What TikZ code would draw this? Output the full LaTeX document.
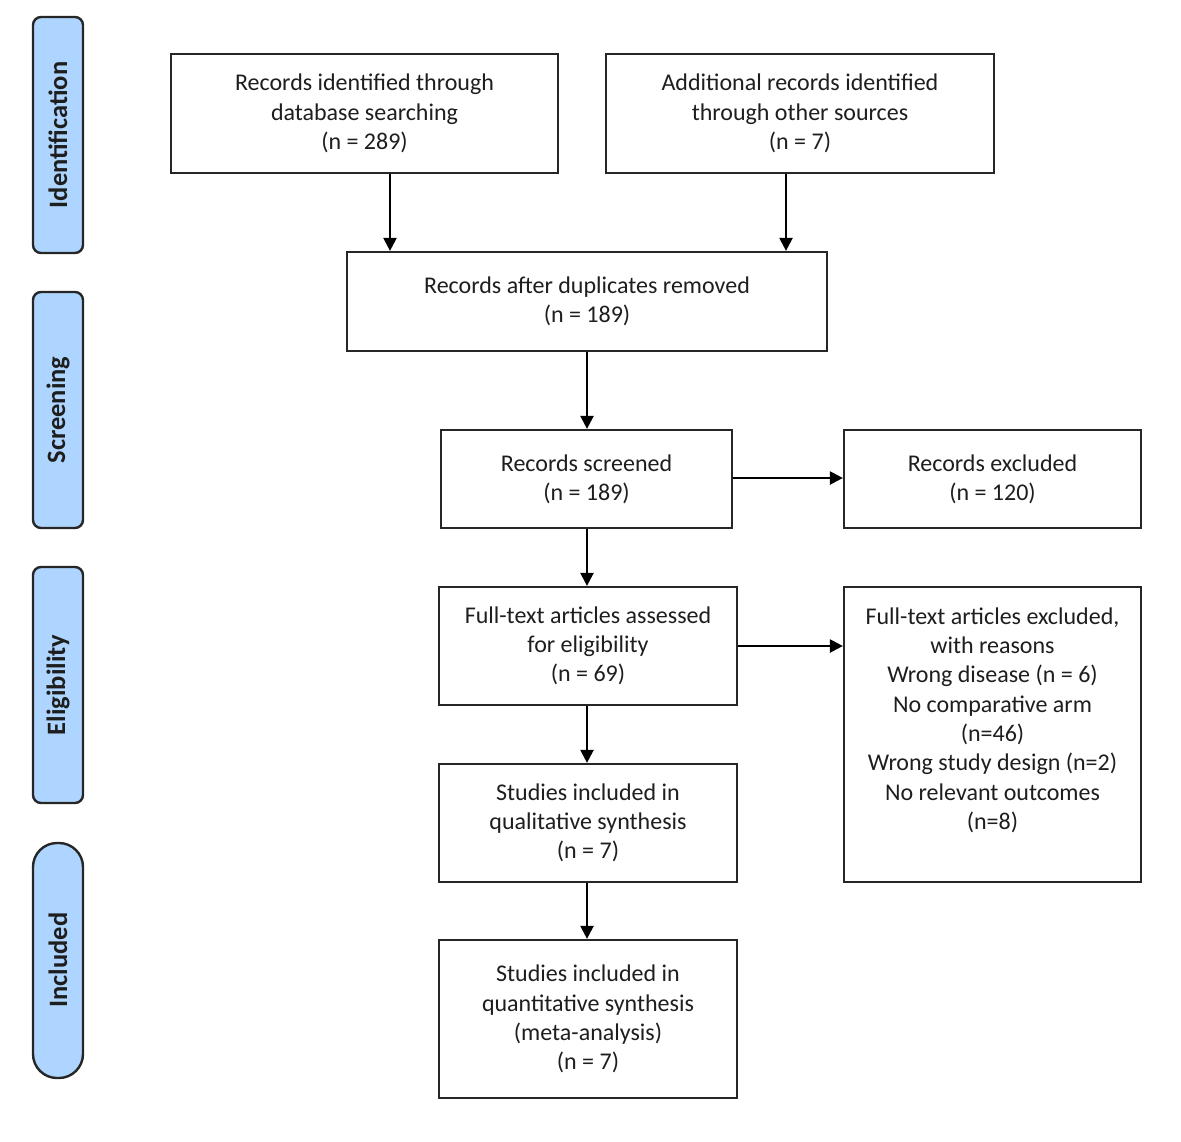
\documentclass[tikz,border=0pt]{standalone}
\usepackage{fontspec}
\setmainfont{Carlito}
\usetikzlibrary{arrows.meta}
\definecolor{phase}{RGB}{174,213,255}
\definecolor{txt}{RGB}{30,30,30}
\tikzset{
  box/.style={draw=black!85, line width=2.2pt, fill=white, text=txt, align=center,
    font=\fontsize{24}{29.3}\selectfont, inner sep=0pt},
  phasebox/.style={draw=black!85, line width=2.4pt, fill=phase, rounded corners=8pt},
  phaselabel/.style={rotate=90, font=\fontsize{26.5}{30}\selectfont\bfseries, text=txt},
  arr/.style={draw=black, line width=2.2pt, -{Triangle[length=13pt,width=13pt]}}
}
\begin{document}
\begin{tikzpicture}[x=1pt,y=-1pt]
\useasboundingbox (0,0) rectangle (1181,1142);
% phase bars
\draw[phasebox] (33,17) rectangle (83,253);
\node[phaselabel] (pid) at (58,135) {Identification};
\draw[phasebox] (33,292) rectangle (83,528);
\node[phaselabel] (psc) at (58,410) {Screening};
\draw[phasebox] (33,567) rectangle (83,803);
\node[phaselabel] (pel) at (58,685) {Eligibility};
\draw[phasebox, rounded corners=24pt] (33,843) rectangle (83,1078);
\node[phaselabel] (pin) at (58,960) {Included};
% boxes
\node[box, minimum width=387pt, minimum height=119pt] (db) at (364.5,113.5) {Records identified through\\database searching\\(n = 289)};
\node[box, minimum width=388pt, minimum height=119pt] (oth) at (800,113.5) {Additional records identified\\through other sources\\(n = 7)};
\node[box, minimum width=480pt, minimum height=99pt] (dup) at (587,301.5) {Records after duplicates removed\\(n = 189)};
\node[box, minimum width=291pt, minimum height=98pt] (scr) at (586.5,479) {Records screened\\(n = 189)};
\node[box, minimum width=297pt, minimum height=98pt] (exc) at (992.5,479) {Records excluded\\(n = 120)};
\node[box, minimum width=298pt, minimum height=118pt] (ft) at (588,646) {Full-text articles assessed\\for eligibility\\(n = 69)};
\node[box, minimum width=297pt, minimum height=295pt] (ftx) at (992.5,734.5) {};
\node[align=center, text=txt, font=\fontsize{24}{29.3}\selectfont, anchor=north] (ftxt) at (992.5,604) {Full-text articles excluded,\\with reasons\\Wrong disease (n = 6)\\No comparative arm\\(n=46)\\Wrong study design (n=2)\\No relevant outcomes\\(n=8)};
\node[box, minimum width=298pt, minimum height=118pt] (qual) at (588,823) {Studies included in\\qualitative synthesis\\(n = 7)};
\node[box, minimum width=298pt, minimum height=158pt] (quant) at (588,1019) {Studies included in\\quantitative synthesis\\(meta-analysis)\\(n = 7)};
% arrows
\draw[arr] (db.south -| 390,0) -- (dup.north -| 390,0);
\draw[arr] (oth.south -| 786,0) -- (dup.north -| 786,0);
\draw[arr] (dup.south -| 587,0) -- (scr.north -| 587,0);
\draw[arr] (scr.east |- 0,478) -- (exc.west |- 0,478);
\draw[arr] (scr.south -| 587,0) -- (ft.north -| 587,0);
\draw[arr] (ft.east |- 0,646) -- (ftx.west |- 0,646);
\draw[arr] (ft.south -| 587,0) -- (qual.north -| 587,0);
\draw[arr] (qual.south -| 587,0) -- (quant.north -| 587,0);
\end{tikzpicture}
\end{document}
